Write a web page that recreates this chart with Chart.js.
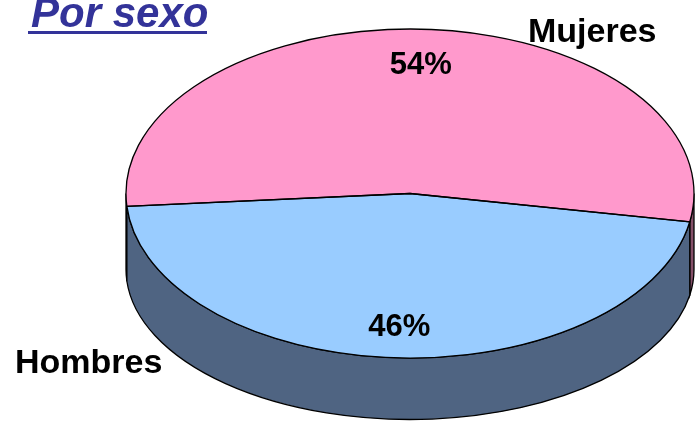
<!DOCTYPE html>
<html>
<head>
<meta charset="utf-8">
<script src="https://cdn.jsdelivr.net/npm/chart.js@4.4.1/dist/chart.umd.min.js"></script>
<style>
    html, body { margin: 0; padding: 0; background: #fff; }
    #wrap { position: relative; width: 695px; height: 422px; overflow: hidden; }
    #pie { position: absolute; left: 0; top: 0; }
    #title {
        position: absolute; left: 28px; top: -6px; width: 176px; padding-left: 3px;
        font: italic bold 42px "Liberation Sans", Arial, sans-serif;
        line-height: 37px; color: #333399; border-bottom: 3px solid #333399;
        white-space: nowrap;
    }
</style>
</head>
<body>
<div id="wrap">
    <canvas id="pie" width="695" height="422"></canvas>
    <div id="title">Por sexo</div>
</div>
<script>
const categories = ['Mujeres', 'Hombres'];
const shares = [54, 46];

const faceColors = ['#FF99CC', '#99CCFF'];
const sideColors = ['#844F68', '#4F6482'];

// bottom face of the cake: lower and a bit flatter (perspective)
const depth = 76;
const bottomRy = 150;

function frame(chart) {
    const a = chart.chartArea;
    return {
        cx: (a.left + a.right) / 2,
        cy: (a.top + a.bottom) / 2,
        rx: (a.right - a.left) / 2,
        ry: (a.bottom - a.top) / 2
    };
}

const cakePlugin = {
    id: 'cake',
    beforeDatasetsDraw(chart) {
        const ctx = chart.ctx;
        const f = frame(chart);
        const arcs = chart.getDatasetMeta(0).data;
        const cyB = f.cy + depth;

        // front walls, only the part between 0 and PI faces us
        arcs.forEach((arc, i) => {
            for (let k = 0; k < 3; k++) {
                const lo = Math.max(arc.startAngle, k * 2 * Math.PI);
                const hi = Math.min(arc.endAngle, k * 2 * Math.PI + Math.PI);
                if (lo >= hi) continue;
                ctx.beginPath();
                ctx.ellipse(f.cx, f.cy, f.rx, f.ry, 0, lo, hi);
                ctx.lineTo(f.cx + f.rx * Math.cos(hi), cyB + bottomRy * Math.sin(hi));
                ctx.ellipse(f.cx, cyB, f.rx, bottomRy, 0, hi, lo, true);
                ctx.closePath();
                ctx.fillStyle = sideColors[i];
                ctx.fill();
                ctx.lineWidth = 1.3;
                ctx.strokeStyle = '#000';
                ctx.stroke();
            }
        });

        // squash the round pie into the top ellipse
        const arc = arcs[0];
        ctx.save();
        ctx.translate(f.cx, f.cy);
        ctx.scale(f.rx / arc.outerRadius, f.ry / arc.outerRadius);
        ctx.translate(-arc.x, -arc.y);
    },
    afterDatasetsDraw(chart) {
        const ctx = chart.ctx;
        ctx.restore();
        const f = frame(chart);
        const arcs = chart.getDatasetMeta(0).data;

        ctx.lineWidth = 1.3;
        ctx.strokeStyle = '#000';
        arcs.forEach(arc => {
            ctx.beginPath();
            ctx.moveTo(f.cx, f.cy);
            ctx.ellipse(f.cx, f.cy, f.rx, f.ry, 0, arc.startAngle, arc.endAngle);
            ctx.closePath();
            ctx.stroke();
        });

        // percentages on the slices
        ctx.fillStyle = '#000';
        ctx.textAlign = 'center';
        ctx.textBaseline = 'alphabetic';
        ctx.font = 'bold 31px "Liberation Sans", Arial, sans-serif';
        arcs.forEach((arc, i) => {
            const mid = (arc.startAngle + arc.endAngle) / 2;
            const x = f.cx + f.rx * 0.8 * Math.cos(mid);
            const y = f.cy + f.ry * 0.8 * Math.sin(mid);
            ctx.fillText(shares[i] + '%', x, y + 11.5);
        });

        // category names outside
        const namePos = [{ x: 528, y: 42 }, { x: 15, y: 373 }];
        ctx.textAlign = 'left';
        ctx.font = 'bold 34px "Liberation Sans", Arial, sans-serif';
        categories.forEach((name, i) => {
            ctx.fillText(name, namePos[i].x, namePos[i].y);
        });
    }
};

new Chart(document.getElementById('pie'), {
    type: 'pie',
    data: {
        labels: categories,
        datasets: [{
            data: shares,
            backgroundColor: faceColors,
            borderWidth: 0
        }]
    },
    options: {
        responsive: false,
        animation: false,
        rotation: 265.5,
        layout: { padding: { left: 126, right: 1, top: 29, bottom: 64 } },
        plugins: {
            legend: { display: false },
            tooltip: { enabled: false }
        },
        events: []
    },
    plugins: [cakePlugin]
});
</script>
</body>
</html>
